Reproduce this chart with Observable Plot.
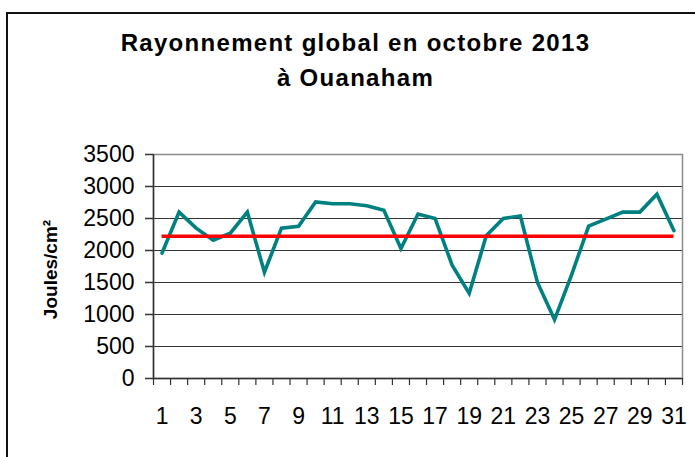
<!DOCTYPE html>
<html>
<head>
<meta charset="utf-8">
<script src="https://cdn.jsdelivr.net/npm/d3@7"></script>
<script src="https://cdn.jsdelivr.net/npm/@observablehq/plot@0.6"></script>
<style>
  html, body { margin: 0; padding: 0; background: #fff; }
  #wrap { position: relative; width: 695px; height: 457px; overflow: hidden; font-family: "Liberation Sans", Arial, sans-serif; }
  #border { position: absolute; left: 6px; top: 12px; width: 720px; height: 480px; border-left: 2px solid #111; border-top: 2px solid #111; box-sizing: border-box; }
  .title { position: absolute; left: 0; width: 711px; text-align: center; font-weight: bold; font-size: 24px; line-height: 24px; letter-spacing: 1.3px; color: #000; white-space: nowrap; }
  #chart { position: absolute; left: 0; top: 0; }
</style>
</head>
<body>
<div id="wrap">
  <div id="border"></div>
  <div class="title" id="t1" style="top:31px"></div>
  <div class="title" id="t2" style="top:66px"></div>
  <div id="chart"></div>
</div>
<script>
const titleLines = ["Rayonnement global en octobre 2013", "à Ouanaham"];
const yTitle = "Joules/cm²";
const days = [1,2,3,4,5,6,7,8,9,10,11,12,13,14,15,16,17,18,19,20,21,22,23,24,25,26,27,28,29,30,31];
const radiation = [1960,2600,2350,2160,2270,2600,1660,2350,2380,2760,2730,2730,2700,2630,2030,2570,2500,1770,1330,2230,2500,2540,1500,920,1620,2380,2490,2600,2600,2880,2310];
const referenceLevel = 2222;
const yTicks = [0,500,1000,1500,2000,2500,3000,3500];
const xLabelDays = [1,3,5,7,9,11,13,15,17,19,21,23,25,27,29,31];

document.getElementById("t1").textContent = titleLines[0];
document.getElementById("t2").textContent = titleLines[1];

const data = days.map((d, i) => ({day: d, value: radiation[i]}));
const boundaries = days.map(d => d - 0.5).concat([days[days.length - 1] + 0.5]);

const chart = Plot.plot({
  width: 695,
  height: 457,
  marginLeft: 153,
  marginRight: 13,
  marginTop: 154,
  marginBottom: 79,
  style: {background: "transparent", fontFamily: "'Liberation Sans', Arial, sans-serif", fontSize: "22px", color: "#000"},
  x: {type: "linear", domain: [days[0] - 0.5, days[days.length - 1] + 0.5], axis: null},
  y: {domain: [yTicks[0], yTicks[yTicks.length - 1]], axis: null},
  marks: [
    Plot.ruleY(yTicks.slice(1, -1), {stroke: "#333", strokeWidth: 1}),
    Plot.frame({stroke: "#8a8a8a", strokeWidth: 1.5}),
    Plot.ruleY([yTicks[0]], {stroke: "#333", strokeWidth: 1.5}),
    Plot.ruleX([boundaries[0]], {stroke: "#333", strokeWidth: 1.5}),
    Plot.axisY(yTicks, {label: null, tickSize: 8, tickPadding: 11, tickFormat: d => String(d), fontSize: 23, stroke: "#333", strokeWidth: 1.5, ariaLabel: "ylabels"}),
    Plot.axisX(boundaries, {label: null, tickSize: 7, tickFormat: () => "", stroke: "#333", strokeWidth: 1.2}),
    Plot.axisX(xLabelDays, {label: null, tickSize: 0, tickPadding: 29, tickFormat: d => String(d), fontSize: 23, ariaLabel: "xlabels"}),
    Plot.line(data, {x: "day", y: "value", stroke: "#008080", strokeWidth: 3.6, strokeLinejoin: "miter", strokeMiterlimit: 4}),
    Plot.ruleY([referenceLevel], {x1: days[0], x2: days[days.length - 1], stroke: "#ff0000", strokeWidth: 3.6}),
    Plot.text([yTitle], {frameAnchor: "left", rotate: -90, dx: -103, dy: 3, fontSize: 19, fontWeight: "bold", textAnchor: "middle", ariaLabel: "ytitle", fill: "#000"})
  ]
});

const svg = d3.select(chart);
svg.selectAll('g[aria-label="ytitle"] text').attr("letter-spacing", "1.8px");
svg.selectAll('g[aria-label="ylabels"] text').attr("letter-spacing", "2px");
svg.selectAll('g[aria-label="xlabels"] text').attr("letter-spacing", "0.6px");
document.getElementById("chart").appendChild(chart);
</script>
</body>
</html>
